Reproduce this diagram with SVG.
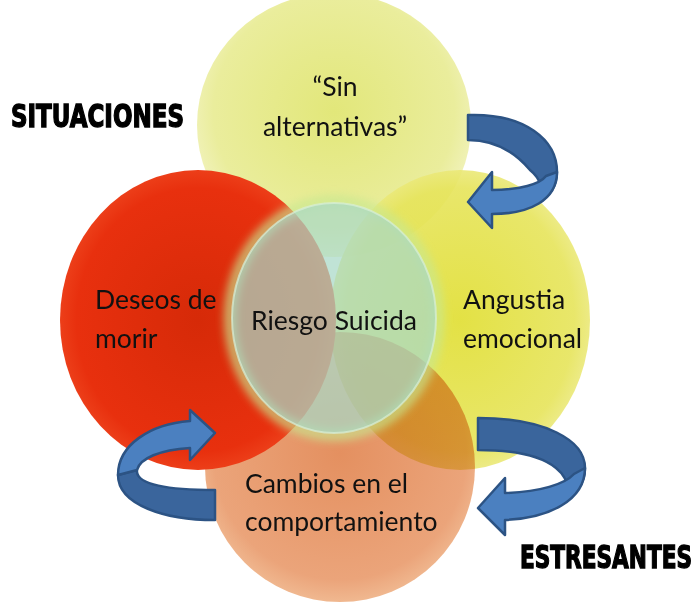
<svg xmlns="http://www.w3.org/2000/svg" width="700" height="614" viewBox="0 0 700 614">
<defs>
<radialGradient id="gTop" cx="50%" cy="45%" r="55%">
<stop offset="0" stop-color="#e2e77a"/><stop offset="0.8" stop-color="#eaed9c"/><stop offset="1" stop-color="#f2f3c0"/>
</radialGradient>
<radialGradient id="gRight" cx="50%" cy="50%" r="55%">
<stop offset="0" stop-color="#e0de30"/><stop offset="0.8" stop-color="#e6e45a"/><stop offset="1" stop-color="#eeec90"/>
</radialGradient>
<radialGradient id="gLeft" cx="50%" cy="50%" r="55%">
<stop offset="0" stop-color="#d62a08"/><stop offset="0.8" stop-color="#e8300e"/><stop offset="1" stop-color="#f04a22"/>
</radialGradient>
<radialGradient id="gBottom" cx="50%" cy="45%" r="55%">
<stop offset="0" stop-color="#e49060"/><stop offset="0.85" stop-color="#eba47a"/><stop offset="1" stop-color="#f0b890"/>
</radialGradient>
<filter id="glow" x="-20%" y="-20%" width="140%" height="140%"><feGaussianBlur stdDeviation="4"/></filter>
<style>
.t{font-family:Lato,"Open Sans","Liberation Sans",sans-serif;font-size:26.5px;fill:#111}
.h{font-family:"DejaVu Sans Condensed","DejaVu Sans",sans-serif;font-weight:bold;font-size:23px;fill:#000;stroke:#000;stroke-width:1}
.ad{fill:#3a659c;stroke:#2c5384;stroke-width:2.5;stroke-linejoin:round}
.al{fill:#4b80c0;stroke:#2c5384;stroke-width:2.5;stroke-linejoin:round}
</style>
</defs>
<rect width="700" height="614" fill="#fff"/>
<g id="sin-alternativas"><ellipse cx="334" cy="125" rx="137" ry="132" fill="url(#gTop)"/></g>
<g id="angustia"><ellipse cx="460" cy="320" rx="130" ry="150" fill="url(#gRight)" opacity="0.9"/></g>
<g id="cambios"><ellipse cx="340" cy="467" rx="135" ry="135" fill="url(#gBottom)" style="mix-blend-mode:multiply"/></g>
<g id="deseos"><ellipse cx="198" cy="320" rx="138" ry="150" fill="url(#gLeft)"/></g>
<g id="riesgo">
<ellipse cx="334" cy="318" rx="104" ry="117" fill="none" stroke="#c8e890" stroke-width="12" opacity="0.7" filter="url(#glow)"/>
<ellipse cx="334" cy="318" rx="102" ry="115" fill="#a8d8c6" fill-opacity="0.72" stroke="#d8f0d8" stroke-width="2" stroke-opacity="0.7"/>
</g>
<g id="texts">
<text class="t" x="335" y="96" text-anchor="middle">“Sin</text>
<text class="t" x="335" y="136" text-anchor="middle">alternativas”</text>
<text class="t" x="95" y="309">Deseos de</text>
<text class="t" x="95" y="348">morir</text>
<text class="t" x="334" y="330" text-anchor="middle">Riesgo Suicida</text>
<text class="t" x="463" y="309">Angustia</text>
<text class="t" x="463" y="348">emocional</text>
<text class="t" x="245" y="493">Cambios en el</text>
<text class="t" x="245" y="531">comportamiento</text>
<text class="h" transform="scale(1,1.35)" x="11" y="94" textLength="173" lengthAdjust="spacingAndGlyphs">SITUACIONES</text>
<text class="h" transform="scale(1,1.35)" x="520" y="421" textLength="172" lengthAdjust="spacingAndGlyphs">ESTRESANTES</text>
</g>
<g id="connectors">
<path class="ad" d="M468,115 C525,113 557,140 557,172 C557,186 550,196 538,203 C545,190 540,178 530,170 C515,152 495,140 468,140 Z"/>
<path class="al" d="M557,172 C557,200 530,214 492,214 L492,228 L468,202 L492,172 L492,190 C520,190 540,184 546,176 Z"/>
<path class="ad" d="M478,418 C545,418 585,440 585,468 C585,482 578,492 566,499 C570,486 566,476 556,468 C540,455 515,450 478,450 Z"/>
<path class="al" d="M585,468 C585,500 550,518 505,520 L505,535 L478,508 L505,478 L505,493 C540,492 565,484 574,474 Z"/>
<path class="ad" d="M118,475 C118,505 165,520 215,520 L215,490 C170,490 135,485 137,470 Z"/>
<path class="al" d="M215,433 L190,410 L190,421 C150,424 118,445 118,475 L137,470 C140,458 160,450 190,448 L190,460 Z"/>
</g>
</svg>
